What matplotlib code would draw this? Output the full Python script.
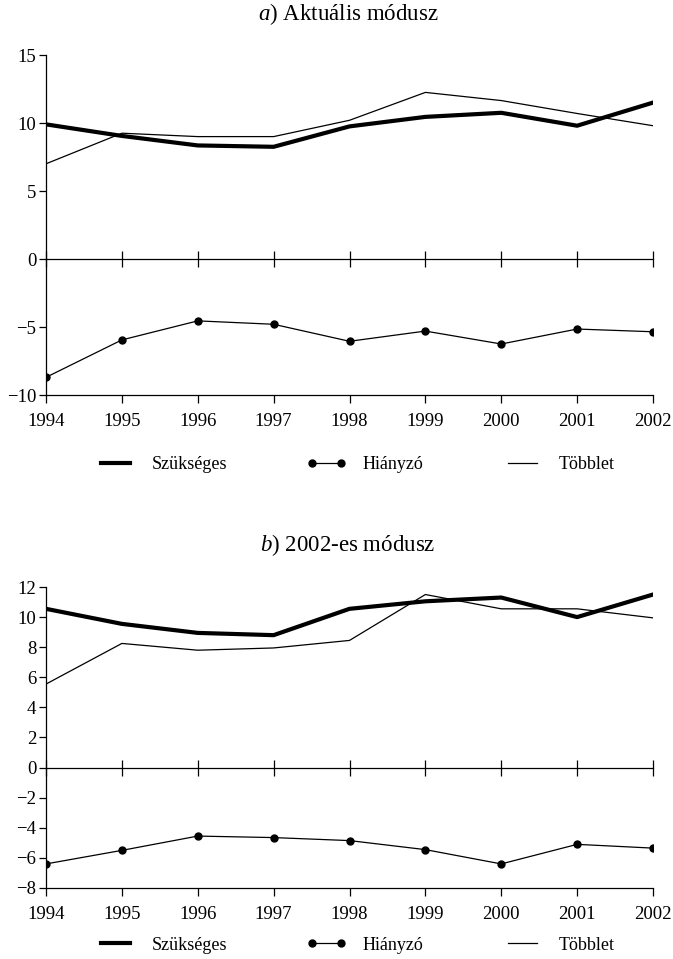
import numpy as np
import matplotlib.pyplot as plt

plt.rcParams['font.family'] = 'Liberation Serif'
plt.rcParams['mathtext.fontset'] = 'custom'
plt.rcParams['mathtext.rm'] = 'Liberation Serif'
plt.rcParams['mathtext.it'] = 'Liberation Serif:italic'

years = list(range(1994, 2003))

# a) Aktuális módusz
a_szukseges = [9.9, 9.05, 8.35, 8.25, 9.75, 10.45, 10.75, 9.8, 11.5]
a_hianyzo = [-8.7, -5.95, -4.55, -4.8, -6.05, -5.3, -6.25, -5.15, -5.35]
a_tobblet = [7.0, 9.25, 9.0, 9.0, 10.2, 12.25, 11.65, 10.7, 9.8]
a_yticks = [-10, -5, 0, 5, 10, 15]

# b) 2002-es módusz
b_szukseges = [10.55, 9.55, 8.95, 8.8, 10.55, 11.05, 11.3, 10.0, 11.5]
b_hianyzo = [-6.4, -5.5, -4.55, -4.65, -4.85, -5.45, -6.4, -5.1, -5.35]
b_tobblet = [5.55, 8.25, 7.8, 7.95, 8.45, 11.5, 10.55, 10.55, 9.95]
b_yticks = [-8, -6, -4, -2, 0, 2, 4, 6, 8, 10, 12]

labels = ['Szükséges', 'Hiányzó', 'Többlet']

W, H = 673, 959
fig = plt.figure(figsize=(W / 100, H / 100), dpi=100)


def panel(rect, sz, hi, tb, yticks, title, title_y, legend_y):
    ax = fig.add_axes(rect)
    l1, = ax.plot(years, sz, color='k', lw=3.0, solid_joinstyle='round')
    l2, = ax.plot(years, hi, color='k', lw=0.9, marker='o', ms=5)
    l3, = ax.plot(years, tb, color='k', lw=0.9)
    ax.set_xlim(years[0], years[-1])
    ax.set_ylim(yticks[0], yticks[-1])
    ax.set_yticks(yticks)
    ax.set_xticks(years)
    for s in ['top', 'right']:
        ax.spines[s].set_visible(False)
    for s in ['left', 'bottom']:
        ax.spines[s].set_linewidth(0.9)
    ax.tick_params(axis='y', direction='out', length=5, width=0.9,
                   labelsize=13.5, pad=2)
    ax.tick_params(axis='x', direction='out', length=6, width=0.9,
                   labelsize=13.5, pad=7)
    # zero line with ticks crossing it
    sec = ax.secondary_xaxis(0, transform=ax.transData)
    sec.set_xticks(years)
    sec.tick_params(direction='inout', length=11, width=0.9, labelbottom=False)
    sec.spines['bottom'].set_linewidth(0.9)
    fig.text(348 / W, 1 - title_y / H, title, ha='center', va='center',
             fontsize=16.5)
    fig.legend([l1, l2, l3], labels, loc='center',
               bbox_to_anchor=(355 / W, 1 - legend_y / H), ncol=3,
               frameon=False, numpoints=2, handlelength=2.2,
               handletextpad=0.9, columnspacing=4.4, fontsize=13)
    return ax


panel([46 / W, 1 - 395 / H, 607 / W, 340 / H],
      a_szukseges, a_hianyzo, a_tobblet, a_yticks,
      r'$\mathit{a)}$ Aktuális módusz', 14, 465)
panel([46 / W, 1 - 888 / H, 607 / W, 301 / H],
      b_szukseges, b_hianyzo, b_tobblet, b_yticks,
      r'$\mathit{b)}$ 2002-es módusz', 545, 945)

fig.savefig('out.png', dpi=100)
